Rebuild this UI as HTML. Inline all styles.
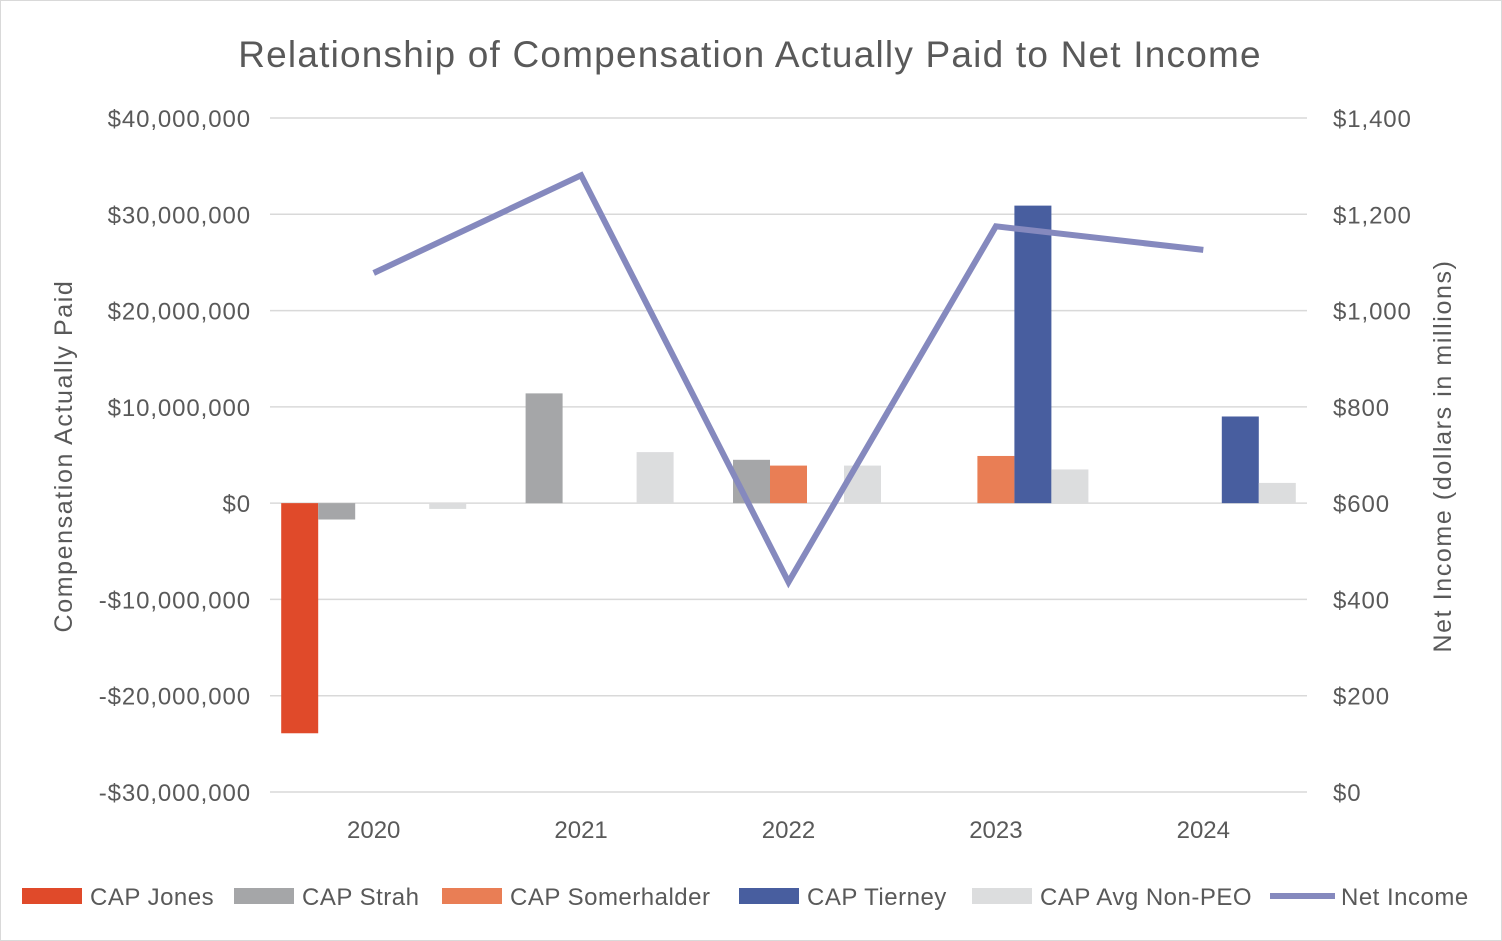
<!DOCTYPE html>
<html><head><meta charset="utf-8"><style>
body{margin:0;background:#fff;}
svg{display:block;font-family:"Liberation Sans",Arial,sans-serif;}
</style></head><body>
<svg id="chart" width="1502" height="941" viewBox="0 0 1502 941">
<rect x="0.5" y="0.5" width="1501" height="940" fill="#fff" stroke="#D9D9D9"/>
<text x="750" y="67" text-anchor="middle" font-size="37" letter-spacing="1.2" fill="#595959">Relationship of Compensation Actually Paid to Net Income</text>
<g id="grid"></g><g id="bars"></g><g id="line"></g><g id="labels"></g>
<text transform="translate(72,456) rotate(-90)" text-anchor="middle" font-size="25" letter-spacing="1.6" fill="#595959">Compensation Actually Paid</text>
<text transform="translate(1451,456) rotate(-90)" text-anchor="middle" font-size="25" letter-spacing="1.6" fill="#595959">Net Income (dollars in millions)</text>
<g id="legend"></g>
</svg>
<script>
const years=["2020","2021","2022","2023","2024"];
const seriesNames=["CAP Jones","CAP Strah","CAP Somerhalder","CAP Tierney","CAP Avg Non-PEO"];
const capJones=[-23900000,null,null,null,null];
const capStrah=[-1700000,11400000,4500000,null,null];
const capSomerhalder=[null,null,3900000,4900000,null];
const capTierney=[null,null,null,30900000,9000000];
const capAvgNonPeo=[-600000,5300000,3900000,3500000,2100000];
const netIncome=[1078,1281,436,1175,1126];
const leftTicks=[40000000,30000000,20000000,10000000,0,-10000000,-20000000,-30000000];
const leftTickLabels=["$40,000,000","$30,000,000","$20,000,000","$10,000,000","$0","-$10,000,000","-$20,000,000","-$30,000,000"];
const rightTicks=[1400,1200,1000,800,600,400,200,0];
const rightTickLabels=["$1,400","$1,200","$1,000","$800","$600","$400","$200","$0"];

const colors=["#E04A2A","#A5A6A8","#E97E55","#485E9F","#DCDDDE"];
const NS="http://www.w3.org/2000/svg";
const X0=270,X1=1307,TOP=118,BOT=792;
const yL=v=>TOP+(40000000-v)/70000000*(BOT-TOP);
const yR=v=>BOT-v/1400*(BOT-TOP);
const cw=(X1-X0)/years.length;
const xC=i=>X0+cw*(i+0.5);
function mk(tag,attrs,parent){const e=document.createElementNS(NS,tag);for(const k in attrs)e.setAttribute(k,attrs[k]);document.getElementById(parent).appendChild(e);return e;}

leftTicks.forEach((t,i)=>{
  const g=mk('line',{x1:X0,x2:X1,y1:yL(t),y2:yL(t),stroke:'#D9D9D9','stroke-width':1.5},'grid');
  
  
  const l=mk('text',{x:251,y:yL(t)+9,'text-anchor':'end','font-size':24,'letter-spacing':0.9,fill:'#595959'},'labels');
  l.textContent=leftTickLabels[i];
  
  
});
rightTicks.forEach((t,i)=>{
  const l=mk('text',{x:1333,y:yR(t)+9,'font-size':24,'letter-spacing':0.9,fill:'#595959'},'labels');
  l.textContent=rightTickLabels[i];
  
  
});
years.forEach((y,i)=>{
  const l=mk('text',{x:xC(i),y:838,'text-anchor':'middle','font-size':24,fill:'#595959'},'labels');
  l.textContent=y;
  
  
});
const all=[capJones,capStrah,capSomerhalder,capTierney,capAvgNonPeo];
const bw=37;
all.forEach((s,si)=>{
  s.forEach((v,i)=>{
    if(v===null)return;
    const x=xC(i)-2.5*bw+si*bw;
    const y0=yL(0),y1=yL(v);
    const r=mk('rect',{x:x,y:Math.min(y0,y1),width:bw,height:Math.abs(y1-y0),fill:colors[si]},'bars');
    
    
  });
});
const pts=netIncome.map((v,i)=>xC(i)+','+yR(v)).join(' ');
const pl=mk('polyline',{points:pts,fill:'none',stroke:'#8589BE','stroke-width':6,'stroke-linejoin':'miter'},'line');



const legX=[22,234,442,739,972];
seriesNames.forEach((n,i)=>{
  const r=mk('rect',{x:legX[i],y:888,width:60,height:16,fill:colors[i]},'legend');
  
  
  const t=mk('text',{x:legX[i]+68,y:905,'font-size':24,'letter-spacing':0.5,fill:'#595959'},'legend');
  t.textContent=n;
  
  
});
const ll=mk('line',{x1:1270,x2:1335,y1:896,y2:896,stroke:'#8589BE','stroke-width':6},'legend');


const lt=mk('text',{x:1341,y:905,'font-size':24,'letter-spacing':0.5,fill:'#595959'},'legend');
lt.textContent='Net Income';


</script>
</body></html>
